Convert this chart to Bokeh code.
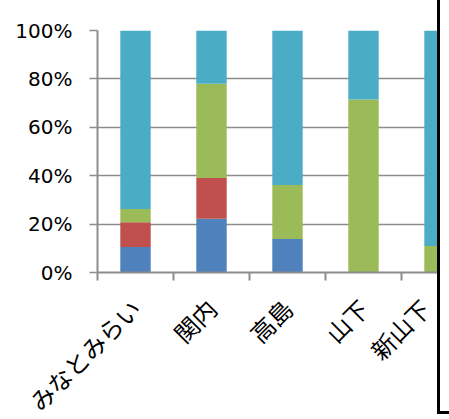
import math
from bokeh.plotting import figure
from bokeh.models import Range1d, FixedTicker, NumeralTickFormatter, Div
from bokeh.layouts import row
from bokeh.embed import file_html
from bokeh.resources import INLINE

categories = ["みなとみらい", "関内", "高島", "山下", "新山下"]
series_names = ["s1", "s2", "s3", "s4"]
s1 = [0.105, 0.222, 0.138, 0.0, 0.0]
s2 = [0.103, 0.168, 0.0, 0.0, 0.0]
s3 = [0.054, 0.390, 0.224, 0.715, 0.110]
s4 = [0.738, 0.220, 0.638, 0.285, 0.890]
colors = ["#4F81BD", "#C0504D", "#9BBB59", "#4BACC6"]
y_ticks = [0, 0.2, 0.4, 0.6, 0.8, 1.0]

FRAME_W = 340
BAND_PX = 76
x_end = FRAME_W / BAND_PX

centers = [i + 0.5 for i in range(len(categories))]
bounds = [float(i) for i in range(len(categories) + 1)]
label_pos = [min(c, x_end - 1e-6) for c in centers]

data = {"x": centers, "s1": s1, "s2": s2, "s3": s3, "s4": s4}

p = figure(frame_width=FRAME_W, frame_height=242,
           x_range=Range1d(0, x_end), y_range=Range1d(0, 1),
           output_backend="svg", toolbar_location=None,
           min_border_left=97, min_border_right=0, min_border_top=30,
           min_border_bottom=147, background_fill_color="white",
           border_fill_color="white", outline_line_color=None)

p.vbar_stack(series_names, x="x", width=0.4, color=colors, source=data,
             line_color=None)

gray = "#8C8C8C"
p.xgrid.grid_line_color = None
p.ygrid.ticker = FixedTicker(ticks=y_ticks)
p.ygrid.grid_line_color = gray
p.ygrid.grid_line_width = 1.6

p.yaxis.ticker = FixedTicker(ticks=y_ticks)
p.yaxis.formatter = NumeralTickFormatter(format="0%")
p.yaxis.axis_line_color = gray
p.yaxis.axis_line_width = 2
p.yaxis.major_tick_line_color = gray
p.yaxis.major_tick_line_width = 1.6
p.yaxis.major_tick_out = 8
p.yaxis.major_tick_in = 0
p.yaxis.minor_tick_line_color = None
p.yaxis.major_label_standoff = 17
p.yaxis.major_label_text_font = "DejaVu Sans"
p.yaxis.major_label_text_font_size = "20px"
p.yaxis.major_label_text_color = "black"

p.xaxis.ticker = FixedTicker(ticks=label_pos, minor_ticks=bounds)
p.xaxis.major_label_overrides = {lp: lab for lp, lab in zip(label_pos, categories)}
p.xaxis.major_tick_line_color = None
p.xaxis.minor_tick_line_color = gray
p.xaxis.minor_tick_line_width = 2
p.xaxis.minor_tick_out = 8
p.xaxis.minor_tick_in = 0
p.xaxis.axis_line_color = gray
p.xaxis.axis_line_width = 2
p.xaxis.major_label_orientation = math.pi / 4
p.xaxis.major_label_standoff = 23
p.xaxis.major_label_text_font = "Noto Sans CJK JP"
p.xaxis.major_label_text_font_size = "24px"
p.xaxis.major_label_text_color = "black"

edge = Div(text='<div style="position:relative;width:12px;height:419px;">'
                '<div style="position:absolute;left:0;top:0;width:3px;height:414px;background:#000;"></div>'
                '<div style="position:absolute;left:0;top:411px;width:12px;height:3px;background:#000;"></div>'
                '</div>', width=12, height=419, margin=(0, 0, 0, 0))

layout = row(p, edge, spacing=0)
open("out.html", "w").write(file_html(layout, INLINE))
